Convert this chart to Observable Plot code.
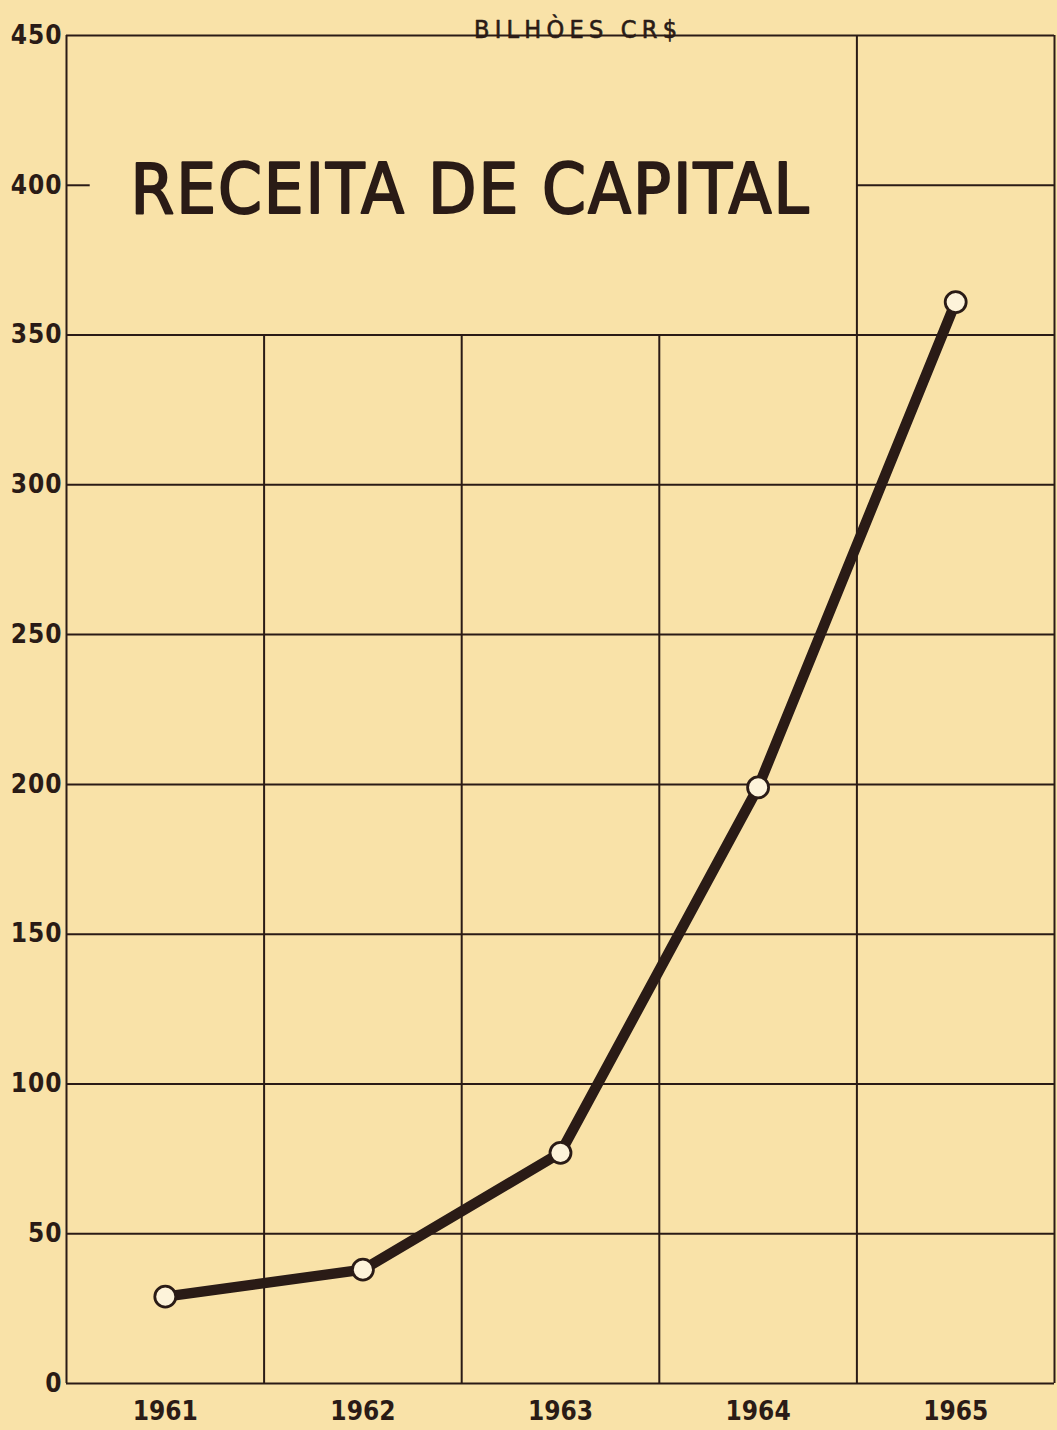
<!DOCTYPE html>
<html>
<head>
<meta charset="utf-8">
<script src="https://cdn.jsdelivr.net/npm/d3@7"></script>
<script src="https://cdn.jsdelivr.net/npm/@observablehq/plot@0.6"></script>
<style>
  html, body { margin: 0; padding: 0; background: #f9e2a8; }
  #chart svg { display: block; background: #f9e2a8; }
</style>
</head>
<body>
<div id="chart"></div>
<script>
// ---- data ----
const years = [1961, 1962, 1963, 1964, 1965];
const values = [29, 38, 77, 199, 361];
const yTickValues = [0, 50, 100, 150, 200, 250, 300, 350, 400, 450];
const title = "RECEITA DE CAPITAL";
const unitLabel = "BILHÒES CR$";

const data = years.map((y, i) => ({year: y, value: values[i]}));

const ink = "#2a1b16";
const paper = "#f9e2a8";
const cond = "'DejaVu Sans Condensed', 'DejaVu Sans', sans-serif";

// grid structure (column boundaries between years, and chart edges)
const left = years[0] - 0.5, right = years[years.length - 1] + 0.5;
const boundaries = years.slice(0, -1).map(y => y + 0.5);

// horizontal lines: 0..350 across; 400 only in the last column plus a short tick; 450 top border
const hFull = yTickValues.filter(v => v <= 350 || v === 450).map(v => ({v, x1: left, x2: right}));
const hPartial = [
  {v: 400, x1: boundaries[boundaries.length - 1], x2: right},
  {v: 400, x1: left, x2: left + 0.12}
];
// vertical lines: inner boundaries up to 350, last boundary and edges up to 450
const vLines = [
  ...boundaries.slice(0, -1).map(b => ({b, y1: 0, y2: 350})),
  {b: boundaries[boundaries.length - 1], y1: 0, y2: 450},
  {b: left, y1: 0, y2: 450},
  {b: right, y1: 0, y2: 450}
];

const chart = Plot.plot({
  width: 1057,
  height: 1430,
  marginLeft: 66,
  marginRight: 3,
  marginTop: 35,
  marginBottom: 47,
  style: {background: paper, color: ink, fontFamily: cond},
  x: {type: "linear", domain: [left, right], axis: null},
  y: {domain: [0, 450], axis: null},
  marks: [
    Plot.ruleY([...hFull, ...hPartial], {y: "v", x1: "x1", x2: "x2", stroke: ink, strokeWidth: 2}),
    Plot.ruleX(vLines, {x: "b", y1: "y1", y2: "y2", stroke: ink, strokeWidth: 2}),
    Plot.axisY(yTickValues, {
      anchor: "left", tickSize: 0, tickPadding: 4, fontSize: 26, fontWeight: "bold",
      fontFamily: cond, tickFormat: d => String(d), fill: ink
    }),
    Plot.axisX(years, {
      anchor: "bottom", tickSize: 0, tickPadding: 18, fontSize: 26, fontWeight: "bold",
      fontFamily: cond, tickFormat: d => String(d), fill: ink
    }),
    Plot.line(data, {x: "year", y: "value", stroke: ink, strokeWidth: 10.5, strokeLinejoin: "round", strokeLinecap: "round"}),
    Plot.dot(data, {x: "year", y: "value", r: 10.5, fill: "#fdf3da", stroke: ink, strokeWidth: 2.8}),
    Plot.text([title], {
      text: d => d, frameAnchor: "top-left", textAnchor: "start", lineAnchor: "bottom",
      dx: 64, dy: 177, fontSize: 70, fill: ink, stroke: ink, strokeWidth: 2, fontFamily: cond
    }),
    Plot.text([unitLabel], {
      text: d => d, frameAnchor: "top", lineAnchor: "bottom", dx: 15, dy: 2,
      fontSize: 25, fill: ink, stroke: ink, strokeWidth: 0.6, fontFamily: cond
    })
  ]
});

document.getElementById("chart").appendChild(chart);

// stretch lettering to match the hand-lettered widths
d3.select(chart).selectAll("text").each(function () {
  const t = this.textContent;
  if (t === title) { this.setAttribute("textLength", 678); this.setAttribute("lengthAdjust", "spacing"); }
  if (t === unitLabel) { this.setAttribute("textLength", 203); this.setAttribute("lengthAdjust", "spacing"); }
});
d3.select(chart).selectAll("g[aria-label='y-axis tick label'] text")
  .style("letter-spacing", "1px");
</script>
</body>
</html>
